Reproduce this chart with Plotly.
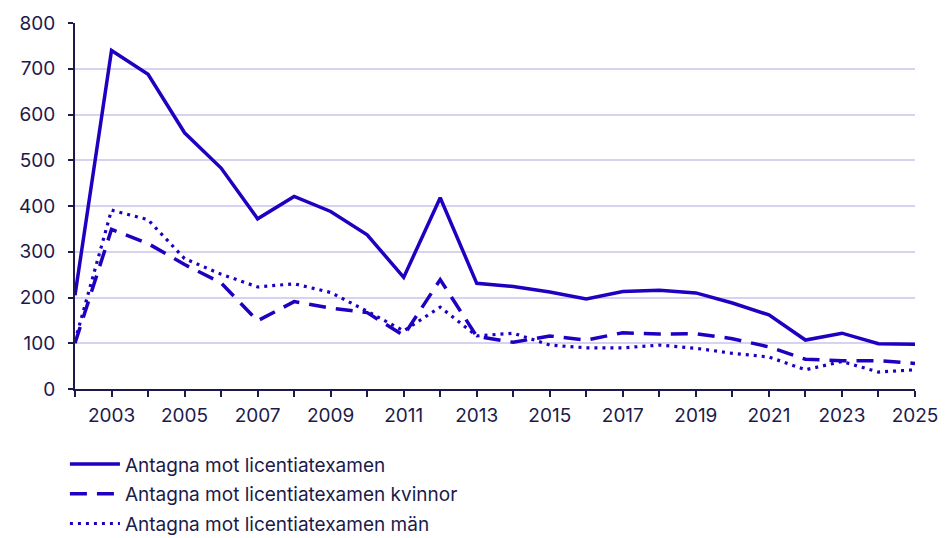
import plotly.graph_objects as go

years = list(range(2002, 2026))
total = [205, 740, 688, 560, 483, 372, 421, 388, 337, 244, 418, 231, 224, 212, 197, 213, 216, 210, 188, 162, 107, 122, 99, 98]
women = [100, 349, 318, 272, 232, 149, 191, 177, 167, 117, 239, 115, 102, 116, 107, 123, 120, 121, 110, 92, 65, 62, 62, 56]
men = [105, 391, 370, 285, 251, 223, 230, 211, 170, 127, 179, 116, 122, 96, 90, 90, 96, 89, 78, 70, 42, 60, 37, 42]
names = ["Antagna mot licentiatexamen", "Antagna mot licentiatexamen kvinnor", "Antagna mot licentiatexamen män"]
tick_years = list(range(2003, 2026, 2))

color = "#1f00c0"
txt = "#1c1a4a"

fig = go.Figure()
fig.add_trace(go.Scatter(x=years, y=total, name=names[0], mode="lines", legendgroup="a",
                         line=dict(color=color, width=3.5)))
fig.add_trace(go.Scatter(x=years, y=women, name=names[1], mode="lines", legendgroup="b",
                         line=dict(color=color, width=3.5, dash="17px,10px")))
fig.add_trace(go.Scatter(x=years, y=men, name=names[2], mode="lines", legendgroup="c",
                         line=dict(color=color, width=3.2, dash="3px,5px")))

fig.update_layout(
    width=941, height=530,
    margin=dict(l=67, r=34, t=15, b=149),
    paper_bgcolor="white", plot_bgcolor="white",
    font=dict(family="Inter", size=19, color=txt),
    showlegend=True,
    legend=dict(orientation="v", x=-0.012, xanchor="left",
                yref="container", y=0.175, yanchor="top",
                font=dict(size=19, color=txt), bgcolor="rgba(0,0,0,0)",
                itemwidth=50, tracegroupgap=2),
    xaxis=dict(range=[2002, 2025], tickmode="array", tickvals=tick_years,
               ticktext=[str(y) for y in tick_years], automargin=False,
               showgrid=False, showline=True, linecolor=txt, linewidth=2,
               ticks="outside", ticklen=6, tickcolor=txt, tickwidth=2,
               ticklabelstandoff=2,
               minor=dict(tickmode="array", tickvals=years, ticks="outside", ticklen=6,
                          tickcolor=txt, tickwidth=2, showgrid=False),
               zeroline=False),
    yaxis=dict(range=[0, 800], dtick=100, showgrid=True, gridcolor="#d4d4f0", gridwidth=1.5,
               showline=True, linecolor=txt, linewidth=2, automargin=False,
               ticks="outside", ticklen=5, tickcolor=txt, tickwidth=2,
               ticklabelstandoff=9, zeroline=False),
)

fig.write_html("out.html")
